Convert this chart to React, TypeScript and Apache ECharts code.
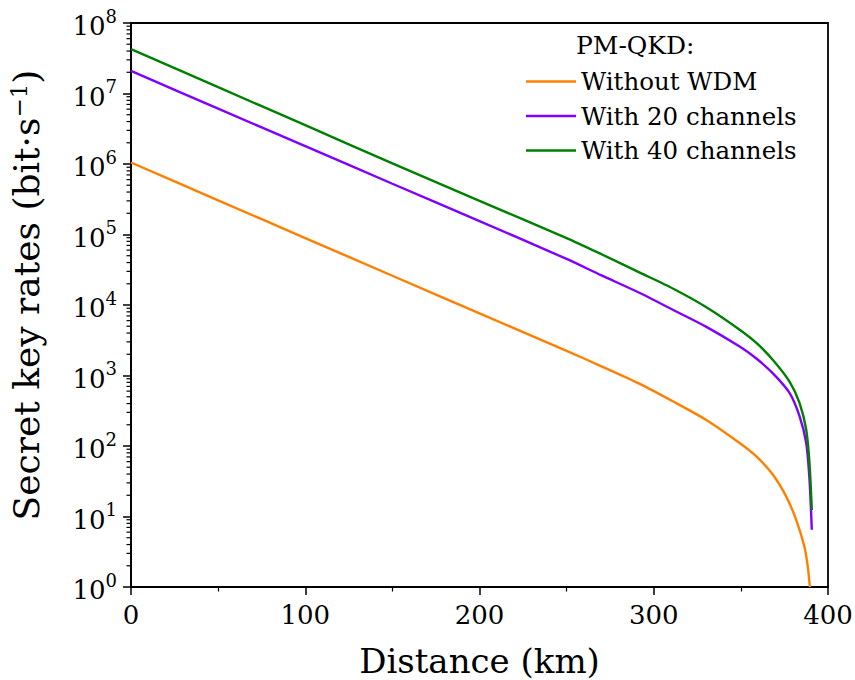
import React, { useEffect, useRef } from "react";
import * as echarts from "echarts";

// Distance (km) and secret key rates (bit/s)
const distanceWithout = [0, 50, 100, 150, 200, 250, 270, 292, 311.2, 330.2, 349.3, 358.9, 368.4, 376.1, 381.8, 386.5, 388.4, 389.6];
const rateWithout = [1.05e6, 3.05e5, 8.9e4, 2.6e4, 7.6e3, 2.24e3, 1.35e3, 760, 427, 234, 110, 71, 39, 19, 8.9, 3.7, 1.95, 1.0];
const distanceWdm = [0, 50, 100, 150, 200, 250, 270, 292, 311.2, 330.2, 349.3, 358.9, 368.4, 378, 383.7, 387.5, 389.4, 390.7];
const rate20 = [2.09e7, 6.1e6, 1.79e6, 5.25e5, 1.55e5, 4.5e4, 2.63e4, 1.48e4, 8.5e3, 4.9e3, 2.57e3, 1.74e3, 1.07e3, 562, 263, 110, 33, 6.5];
const rate40 = [4.27e7, 1.23e7, 3.55e6, 1.02e6, 3.0e5, 8.9e4, 5.25e4, 2.88e4, 1.7e4, 9.3e3, 4.47e3, 2.9e3, 1.66e3, 813, 407, 170, 56, 12.3];

const seriesNames = ["Without WDM", "With 20 channels", "With 40 channels"];
const seriesColors = ["#ff8000", "#8000ff", "#008000"];
const decadeExponents = [0, 1, 2, 3, 4, 5, 6, 7, 8];

const FONT = "DejaVu Serif";

export default function App() {
  const ref = useRef<HTMLDivElement>(null);
  useEffect(() => {
    if (!ref.current) return;
    document.body.style.margin = "0";
    const chart = echarts.init(ref.current, undefined, { renderer: "svg" });
    const pair = (xs: number[], ys: number[]) => xs.map((x, i) => [x, ys[i]]);
    const dataSets = [pair(distanceWithout, rateWithout), pair(distanceWdm, rate20), pair(distanceWdm, rate40)];

    chart.setOption({
      animation: false,
      backgroundColor: "#fff",
      textStyle: { fontFamily: FONT },
      grid: {
        left: 131,
        right: 27,
        top: 23,
        bottom: 93,
        outerBoundsMode: "none",
        containLabel: false,
        show: true,
        borderColor: "#000",
        borderWidth: 1.8,
        backgroundColor: "transparent",
      },
      legend: {
        data: seriesNames.map((n) => ({ name: n, icon: "rect" })),
        orient: "vertical",
        left: 521,
        top: 64,
        itemWidth: 50,
        itemHeight: 2.6,
        itemGap: 9.5,
        textStyle: { fontFamily: FONT, fontSize: 24.5, color: "#000", lineHeight: 25 },
      },
      xAxis: {
        type: "value",
        min: 0,
        max: 400,
        interval: 100,
        name: "Distance (km)",
        nameLocation: "middle",
        nameGap: 57,
        nameTextStyle: { fontFamily: FONT, fontSize: 34, color: "#000" },
        axisLine: { show: true, lineStyle: { color: "#000", width: 1.8 } },
        axisTick: { show: true, inside: false, length: 8, lineStyle: { color: "#000", width: 1.5 } },
        minorTick: { show: true, splitNumber: 2, length: 4.5, lineStyle: { color: "#000", width: 1.2 } },
        axisLabel: {
          fontFamily: FONT,
          fontSize: 26,
          color: "#000",
          margin: 15,
        },
        splitLine: { show: false },
        minorSplitLine: { show: false },
      },
      yAxis: [
        {
          type: "log",
          logBase: 10,
          min: 1,
          max: 1e8,
          position: "left",
          axisLine: { show: true, lineStyle: { color: "#000", width: 1.8 } },
          axisTick: { show: false },
          axisLabel: { show: false },
          splitLine: { show: false },
        },
        {
          type: "value",
          min: 0,
          max: 8,
          interval: 1,
          position: "left",
          name: "Secret key rates (bit·s{sup|−1})",
          nameLocation: "middle",
          nameRotate: 90,
          nameGap: 86,
          nameTextStyle: {
            fontFamily: FONT,
            fontSize: 36,
            color: "#000",
            padding: [0, 0, 0, 20],
            rich: {
              sup: { fontFamily: FONT, fontSize: 23, color: "#000", verticalAlign: "top", lineHeight: 38 },
            },
          },
          axisLine: { show: false },
          axisTick: { show: true, inside: false, length: 8, lineStyle: { color: "#000", width: 1.5 } },
          axisLabel: {
            margin: 14,
            formatter: (v: number) => `{b|10}{s|${Math.round(v)}}`,
            rich: {
              b: { fontFamily: FONT, fontSize: 26, color: "#000", lineHeight: 32, verticalAlign: "bottom" },
              s: { fontFamily: FONT, fontSize: 18, color: "#000", lineHeight: 32, verticalAlign: "top" },
            },
          },
          splitLine: { show: false },
        },
      ],
      series: seriesNames.map((name, i) => ({
        name,
        type: "line",
        yAxisIndex: 0,
        data: dataSets[i],
        showSymbol: false,
        symbol: "none",
        smooth: 0.25,
        lineStyle: { color: seriesColors[i], width: 2.4 },
        itemStyle: { color: seriesColors[i] },
      })),
    });

    // minor log ticks placed through the log axis' own scale
    const axisX = chart.convertToPixel({ xAxisIndex: 0 }, 0) as number;
    const graphics: any[] = [
      {
        type: "text",
        left: 576,
        top: 33,
        style: { text: "PM-QKD:", font: `25px "${FONT}"`, fill: "#000" },
      },
    ];
    decadeExponents.slice(0, -1).forEach((e) => {
      for (let k = 2; k <= 9; k++) {
        const py = chart.convertToPixel({ yAxisIndex: 0 }, k * Math.pow(10, e)) as number;
        graphics.push({
          type: "line",
          shape: { x1: axisX - 4.5, y1: py, x2: axisX, y2: py },
          style: { stroke: "#000", lineWidth: 1.2 },
          silent: true,
        });
      }
    });
    chart.setOption({ graphic: graphics });
    return () => chart.dispose();
  }, []);
  return <div ref={ref} style={{ width: 855, height: 680 }} />;
}
